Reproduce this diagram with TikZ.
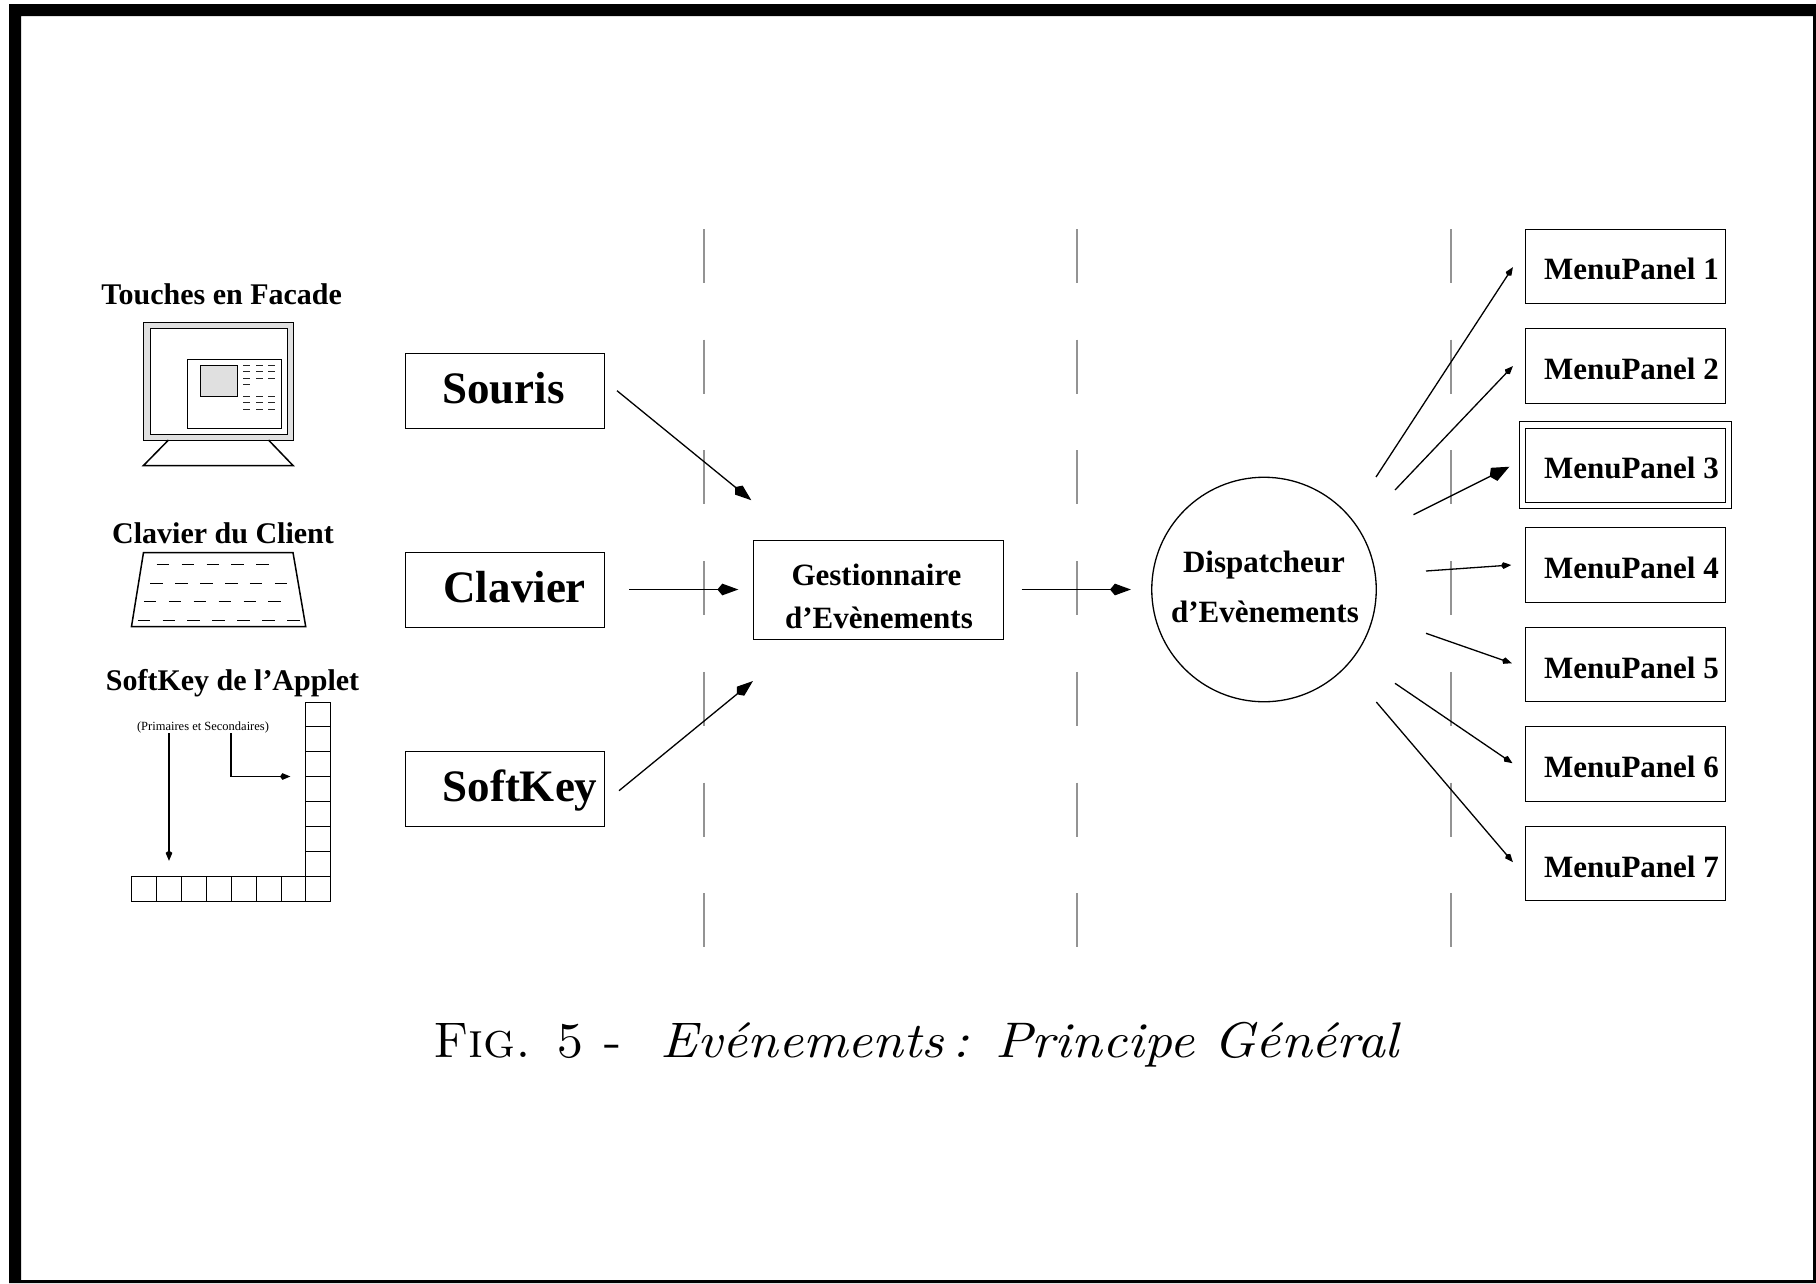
\documentclass[tikz,border=0pt]{standalone}
\usepackage{fontspec}
\setmainfont{Liberation Serif}
\newfontfamily\lmrit[FakeStretch=1.09]{lmroman10-italic.otf}
\newfontfamily\lmrcaps{lmromancaps10-regular.otf}
\usetikzlibrary{arrows.meta}
\tikzset{
  x=1pt,y=-1pt,
  line width=1.2pt,
  box/.style={draw,rectangle,inner sep=0pt,outer sep=0pt},
  txt/.style={inner sep=0pt,outer sep=0pt,anchor=base},
  txtw/.style={inner sep=0pt,outer sep=0pt,anchor=base west},
  head/.style={font=\fontsize{30}{30}\selectfont\bfseries},
  big/.style={font=\fontsize{45}{45}\selectfont\bfseries},
  mid/.style={font=\fontsize{31}{31}\selectfont\bfseries},
  arrS/.style={line width=1.3pt,-{Stealth[length=8pt,width=6pt,inset=-2.5pt]}},
  arrM/.style={line width=1.3pt,-{Stealth[length=16pt,width=11pt,inset=-5pt]}},
  arrL/.style={line width=1.3pt,-{Stealth[length=17pt,width=14pt,inset=-5pt]}},
  sep/.style={gray!85,line width=2pt},
  thindash/.style={line width=1pt,black!85},
  heavy/.style={line width=1.5pt},
}
\begin{document}
\begin{tikzpicture}
\useasboundingbox (0,0) rectangle (1816,1283);
\fill[black,even odd rule] (9,4) rectangle (1816,1283) (21,16) rectangle (1813,1280);
% separators
\foreach \X in {704,1077,1451}
  \foreach \Y in {229,339.7,450.4,561.1,671.8,782.5,893.2}
    \draw[sep] (\X,\Y) -- (\X,\Y+54);
% monitor
\path[draw,fill=black!12] (143.5,322) rectangle (293,440);
\path[draw,fill=white] (150,328.5) rectangle (287.5,434);
\path[draw,fill=white] (187.5,359) rectangle (281,428);
\path[draw,fill=black!12] (200,365.3) rectangle (237.5,396.5);
\foreach \Y in {365.3,371.8,378}
  \foreach \X in {243.3,256,268}
    \draw[thindash] (\X,\Y) -- (\X+6.5,\Y);
\draw[thindash] (243.3,384.3) -- (249.8,384.3);
\foreach \Y in {396.5,402.6,409}
  \foreach \X in {243.3,256,268}
    \draw[thindash] (\X,\Y) -- (\X+6.5,\Y);
\draw[heavy] (168.5,440) -- (143.5,465.5) -- (293,465.5) -- (268.5,440);
\node[txt,head] (touches) at (221.7,304) {Touches en Facade};
% keyboard
\draw[heavy] (143.5,552.5) -- (293,552.5) -- (305.7,626.5) -- (131.5,626.5) -- cycle;
\foreach \i in {0,...,4} \draw (156.7+24.9*\i,564.5) -- +(12.5,0);
\foreach \i in {0,...,5} \draw (150.3+24.9*\i,583.5) -- +(12.5,0);
\foreach \i in {0,...,5} \draw (143.9+24.9*\i,601.5) -- +(12.5,0);
\foreach \i in {0,...,6} \draw (137.6+24.9*\i,620.5) -- +(12.5,0);
\node[txt,head] (clavierclient) at (223,543) {Clavier du Client};
% softkeys
\foreach \i in {0,...,7} \draw (131.3+24.9*\i,876) rectangle +(24.9,24.7);
\foreach \i in {0,...,6} \draw (305.6,701.7+24.9*\i) rectangle +(24.9,24.9);
\node[txt,head] (softapplet) at (232.5,690) {SoftKey de l'Applet};
\node[txt,font=\fontsize{12.5}{12.5}\selectfont] (prim) at (203,730) {(Primaires et Secondaires)};
\coordinate (pa) at (169,733);
\coordinate (pb) at (169,861);
\coordinate (pc) at (231,733);
\coordinate (pd) at (231,776.5);
\coordinate (pe) at (290.5,776.5);
\draw[arrS] (pa) -- (pb);
\draw[arrS] (pc) -- (pd) -- (pe);
% input boxes
\node[box,minimum width=199.2pt,minimum height=75.3pt] (souris) at (504.9,390.9) {};
\node[box,minimum width=199.2pt,minimum height=75.3pt] (clavier) at (504.9,590) {};
\node[box,minimum width=199.2pt,minimum height=75.3pt] (softkey) at (504.9,788.7) {};
\node[txtw,big] (lsouris) at (442,403) {Souris};
\node[txtw,big] (lclavier) at (443.5,602) {Clavier};
\node[txtw,big] (lsoftkey) at (442.5,801.5) {SoftKey};
% gestionnaire
\node[box,minimum width=249.4pt,minimum height=99.6pt] (gest) at (878.2,589.5) {};
\node[txt,mid] (g1) at (876.5,585) {Gestionnaire};
\node[txt,mid] (g2) at (879,628.5) {d'Evènements};
% dispatcher
\node[draw,circle,line width=1.3pt,minimum size=224.5pt,inner sep=0pt,outer sep=0pt] (disp) at (1264,589.5) {};
\node[txt,mid] (d1) at (1264,572) {Dispatcheur};
\node[txt,mid] (d2) at (1265,622) {d'Evènements};
% menu panels
\foreach \i/\T in {1/228.7,2/328.3,3/427.7,4/527.3,5/627,6/726.5,7/826}{
  \node[box,minimum width=199.4pt,minimum height=74.6pt] (mp\i) at (1625,\T+37.3) {};
  \node[txtw,mid] (lmp\i) at (1544,\T+51) {MenuPanel \i};
}
\node[box,minimum width=212pt,minimum height=87.3pt] (mp3out) at (1625,465) {};
% arrows
\coordinate (a1) at (617,390.7);   \coordinate (a2) at (751.4,500.3);
\coordinate (b1) at (629.4,589.5); \coordinate (b2) at (738.4,589.5);
\coordinate (c1) at (619,790.7);   \coordinate (c2) at (753,681);
\coordinate (e1) at (1021.6,589.5);\coordinate (e2) at (1131,589.5);
\draw[arrM] (a1) -- (a2);
\draw[arrM] (b1) -- (b2);
\draw[arrM] (c1) -- (c2);
\draw[arrM] (e1) -- (e2);
\coordinate (m1a) at (1376,477);     \coordinate (m1b) at (1513,267);
\coordinate (m2a) at (1395,490);     \coordinate (m2b) at (1513,366);
\coordinate (m3a) at (1413.5,514.7); \coordinate (m3b) at (1509.4,466.7);
\coordinate (m4a) at (1426,571);     \coordinate (m4b) at (1511.4,565);
\coordinate (m5a) at (1426,633.3);   \coordinate (m5b) at (1512,663.3);
\coordinate (m6a) at (1395,683.3);   \coordinate (m6b) at (1512.6,763.3);
\coordinate (m7a) at (1376.3,702);   \coordinate (m7b) at (1513,862.3);
\draw[arrS] (m1a) -- (m1b);
\draw[arrS] (m2a) -- (m2b);
\draw[arrL] (m3a) -- (m3b);
\draw[arrS] (m4a) -- (m4b);
\draw[arrS] (m5a) -- (m5b);
\draw[arrS] (m6a) -- (m6b);
\draw[arrS] (m7a) -- (m7b);
% caption
\node[txtw,font=\fontsize{50}{50}\selectfont] (cap1) at (433,1057) {\lmrcaps Fig. 5 -};
\node[txtw,font=\fontsize{50}{50}\selectfont] (cap2) at (660.5,1057) {\lmrit Evénements\,: Principe Général};
\end{tikzpicture}
\end{document}
